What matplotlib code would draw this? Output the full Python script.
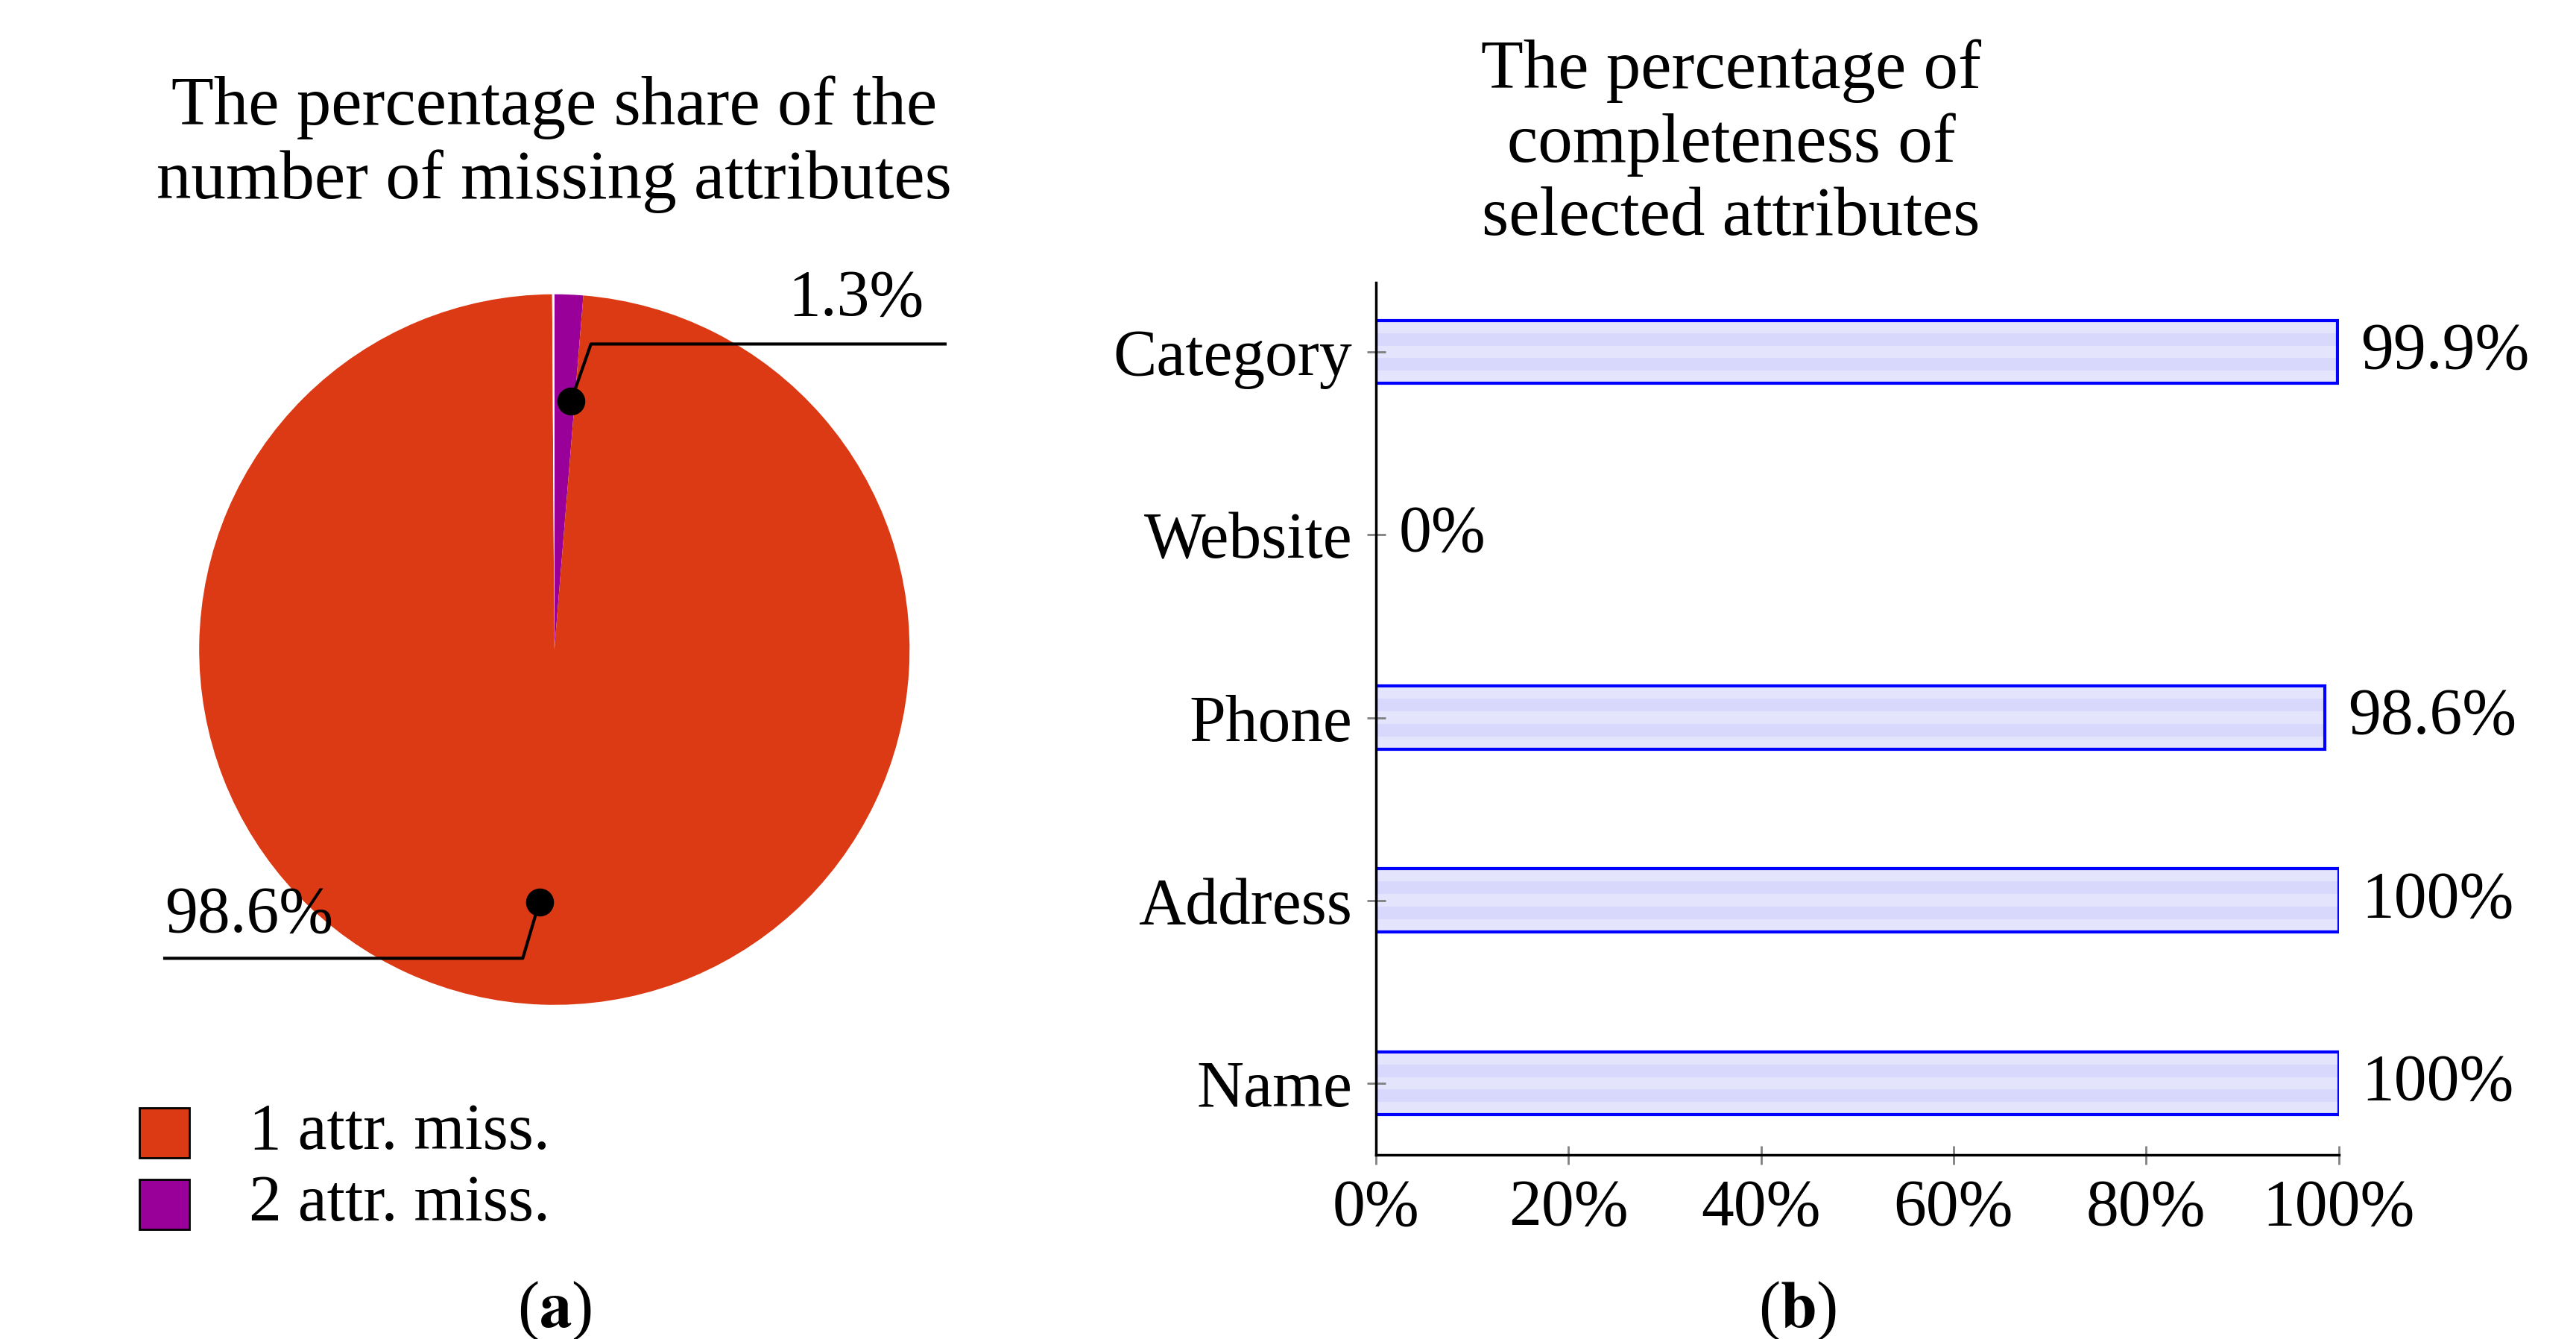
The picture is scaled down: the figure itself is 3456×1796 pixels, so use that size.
import matplotlib
matplotlib.use("Agg")
import matplotlib.pyplot as plt
from matplotlib.patches import Rectangle

# pie data
pie_labels = ["1 attr. miss.", "2 attr. miss."]
pie_values = [98.6, 1.3]
pie_colors = ["#dc3a14", "#990099"]

# bar data
bar_cats = ["Name", "Address", "Phone", "Website", "Category"]
bar_values = [100, 100, 98.6, 0, 99.9]
bar_texts = ["100%", "100%", "98.6%", "0%", "99.9%"]

plt.rcParams['font.family'] = ['Liberation Serif', 'DejaVu Serif']
plt.rcParams['mathtext.fontset'] = 'stix'
FS = 63

fig = plt.figure(figsize=(34.56, 17.96), dpi=100)
W, H = 1552, 806

def fx(px):
    return px / W

def fy(py):
    return 1 - py / H

# ---- pie ----
ax1 = fig.add_axes([fx(120), fy(605), fx(428), 428 / H])
rest = 100 - sum(pie_values)
ax1.pie([pie_values[1], pie_values[0], rest],
        colors=[pie_colors[1], pie_colors[0], "white"],
        startangle=90, counterclock=False,
        wedgeprops=dict(linewidth=0))
ax1.set_xlim(-1, 1)
ax1.set_ylim(-1, 1)
ax1.set_aspect('equal')

def callout(dot, elbow, end, text, txy):
    ax1.plot([dot[0], elbow[0], end[0]], [dot[1], elbow[1], end[1]],
             color='black', lw=3, clip_on=False)
    ax1.plot(dot[0], dot[1], 'o', color='black', ms=26, clip_on=False)
    ax1.text(txy[0], txy[1], text, fontsize=FS, ha='center', va='center')

callout((0.047, 0.70), (0.103, 0.86), (1.10, 0.86), f"{pie_values[1]}%", (0.85, 0.986))
callout((-0.042, -0.71), (-0.089, -0.869), (-1.097, -0.869), f"{pie_values[0]}%", (-0.86, -0.748))

fig.text(fx(334), fy(87), "The percentage share of the\nnumber of missing attributes",
         fontsize=FS + 4, ha='center', va='center', linespacing=1.2)

for i, (lab, col) in enumerate(zip(pie_labels, pie_colors)):
    y = 682 + i * 43
    fig.add_artist(Rectangle((fx(84), fy(y + 15)), fx(30), 30 / H, facecolor=col,
                             edgecolor='black', lw=2, transform=fig.transFigure))
    fig.text(fx(150), fy(y), lab, fontsize=FS, va='center')

# ---- bars ----
ax2 = fig.add_axes([fx(829), fy(695), fx(580), 525 / H])
y = list(range(len(bar_cats)))
bh = 0.345
ax2.barh(y, bar_values, height=bh, color='#e4e4fc', edgecolor='none')
for k in (1, 3):
    ax2.barh([v - bh / 2 + (k + 0.5) * bh / 5 for v in y], bar_values, height=bh / 5,
             color='#d8d8fc', edgecolor='none')
for yi, v in zip(y, bar_values):
    if v > 0:
        ax2.add_patch(Rectangle((0, yi - bh / 2), v, bh, fill=False, edgecolor='#0000ff', lw=3))
for yi, v, t in zip(y, bar_values, bar_texts):
    ax2.text(v + 2.4, yi, t, fontsize=FS, va='center', ha='left')

ax2.set_xlim(0, 100)
ax2.set_ylim(-0.39, 4.38)
ax2.set_yticks(y)
ax2.set_yticklabels(bar_cats, fontsize=FS)
ax2.set_xticks([0, 20, 40, 60, 80, 100])
ax2.set_xticklabels(["0%", "20%", "40%", "60%", "80%", "100%"], fontsize=FS)
ax2.tick_params(axis='both', direction='inout', length=18, width=2, color='gray', pad=14)
ax2.spines['top'].set_visible(False)
ax2.spines['right'].set_visible(False)
ax2.spines['left'].set_linewidth(2.5)
ax2.spines['bottom'].set_linewidth(2.5)

fig.text(fx(1043), fy(87), "The percentage of\ncompleteness of\nselected attributes",
         fontsize=FS + 4, ha='center', va='center', linespacing=1.2)

fig.text(fx(334), fy(789), r"($\mathbf{a}$)", fontsize=FS, ha='center', va='center')
fig.text(fx(1083), fy(789), r"($\mathbf{b}$)", fontsize=FS, ha='center', va='center')

fig.savefig("out.png", dpi=100)
